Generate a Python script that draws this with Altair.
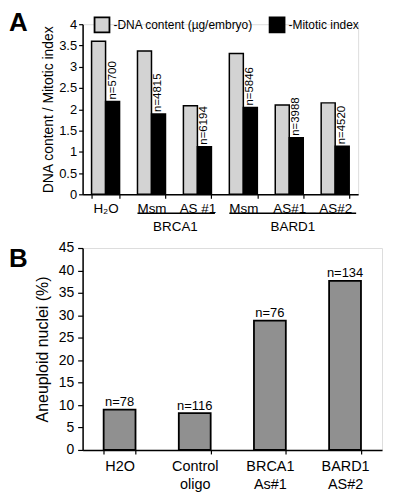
import json
import altair as alt
import pandas as pd

FONT = "Liberation Sans"

# ---------------- Panel A data ----------------
a_keys = ["H2O", "BRCA1 Msm", "BRCA1 AS #1", "BARD1 Msm", "BARD1 AS#1", "BARD1 AS#2"]
a_labels = ["H\u2082O", "Msm", "AS #1", "Msm", "AS#1", "AS#2"]
series = ["DNA content (\u00b5g/embryo)", "Mitotic index"]
dna = [3.60, 3.37, 2.08, 3.31, 2.10, 2.15]
mitotic = [2.18, 1.89, 1.12, 2.04, 1.33, 1.13]
n_a = ["n=5700", "n=4815", "n=6194", "n=5846", "n=3988", "n=4520"]

groups = ["BRCA1", "BARD1"]
group_start = ["BRCA1 Msm", "BARD1 Msm"]
group_end = ["BRCA1 AS #1", "BARD1 AS#2"]
group_mid = ["BRCA1 AS #1", "BARD1 AS#1"]

# ---------------- Panel B data ----------------
b_keys = ["H2O", "Control oligo", "BRCA1 As#1", "BARD1 AS#2"]
b_lines = [["H2O"], ["Control", "oligo"], ["BRCA1", "As#1"], ["BARD1", "AS#2"]]
b_values = [9.0, 8.2, 28.8, 37.7]
n_b = ["n=78", "n=116", "n=76", "n=134"]

# ---------------- layout (styling only) ----------------
WA, HA = 277, 171
WB, HB = 301, 203
grp_x2_off = [3.5, 7.0]      # pixel overhang of the underline past the last band
grp_lbl_band = [0.0, 0.63]   # label anchor position in its band
grp_lbl_off = [-8.0, 0.0]

dfA = pd.DataFrame({
    "cat": a_keys * 2,
    "series": [series[0]] * len(a_keys) + [series[1]] * len(a_keys),
    "value": dna + mitotic,
    "n": [""] * len(a_keys) + n_a,
})

a_label_expr = "{}[indexof({}, datum.value)]".format(
    json.dumps(a_labels, ensure_ascii=False), json.dumps(a_keys))

xA_scale = alt.Scale(domain=a_keys, paddingInner=0.39, paddingOuter=0.195)
xA_axis = alt.Axis(title=None, labelExpr=a_label_expr, tickBand="extent", labelAngle=0,
                   domainColor="black", domainWidth=1.5, tickColor="black", tickWidth=1.2,
                   tickSize=4, labelFont=FONT, labelFontSize=13.5, labelPadding=3,
                   labelColor="black", labelBaseline="top")
yA_axis = alt.Axis(values=[0, 0.5, 1, 1.5, 2, 2.5, 3, 3.5, 4], format=".1~f", grid=False,
                   title="DNA content / Mitotic index", titleX=-34, titleY=HA / 2,
                   titleAlign="center", titleBaseline="middle", titleAngle=-90,
                   titleFont=FONT, titleFontSize=14, titleFontWeight="normal", titleColor="black",
                   labelFont=FONT, labelFontSize=13, labelColor="black", labelPadding=2,
                   tickSize=4, tickColor="black", tickWidth=1.2,
                   domainColor="black", domainWidth=1.5)
yA_scale = alt.Scale(domain=[0, 4], nice=False)

baseA = alt.Chart(dfA)
xA = alt.X("cat:N", scale=xA_scale, axis=xA_axis, sort=a_keys)
xoA = alt.XOffset("series:N", scale=alt.Scale(domain=series), sort=series)
yA = alt.Y("value:Q", scale=yA_scale, axis=yA_axis)

barsA = baseA.mark_bar(stroke="black", strokeWidth=1.5).encode(
    x=xA, xOffset=xoA, y=yA,
    color=alt.Color("series:N", scale=alt.Scale(domain=series, range=["#d3d3d3", "#000000"]),
                    legend=alt.Legend(orient="none", legendX=11, legendY=-8, direction="horizontal",
                                      title=None, symbolType="square", symbolSize=225,
                                      symbolStrokeColor="black", symbolStrokeWidth=1.8,
                                      symbolOpacity=1, labelExpr="'-' + datum.label",
                                      labelFont=FONT, labelFontSize=12, labelColor="black",
                                      labelOffset=3, columnPadding=12, padding=0)),
)

nA = baseA.transform_filter(alt.datum.series == series[1]).mark_text(
    angle=270, align="left", baseline="middle", dx=2, font=FONT, fontSize=11.5, color="black"
).encode(x=xA, xOffset=xoA, y=yA, text="n:N")

layersA = [barsA, nA]
for i, g in enumerate(groups):
    dg = pd.DataFrame({"group": [g], "start": [group_start[i]], "end": [group_end[i]],
                       "mid": [group_mid[i]]})
    rule = alt.Chart(dg).mark_rule(color="black", strokeWidth=1.5, x2Offset=grp_x2_off[i]).encode(
        x=alt.X("start:N", scale=xA_scale, axis=xA_axis, bandPosition=0),
        x2=alt.X2("end:N", bandPosition=1),
        y=alt.value(HA + 19),
    )
    txt = alt.Chart(dg).mark_text(font=FONT, fontSize=13.5, baseline="middle", align="center",
                                  color="black", dx=grp_lbl_off[i]).encode(
        x=alt.X("mid:N", scale=xA_scale, axis=xA_axis, bandPosition=grp_lbl_band[i]),
        y=alt.value(HA + 33),
        text="group:N",
    )
    layersA += [rule, txt]

letterA = alt.Chart(pd.DataFrame({"t": ["A"]})).mark_text(
    font=FONT, fontSize=26, fontWeight="bold", align="left", baseline="top", color="black"
).encode(x=alt.value(-74), y=alt.value(-14), text="t:N")
layersA.append(letterA)

chartA = alt.layer(*layersA).properties(width=WA, height=HA)

# ---------------- Panel B ----------------
dfB = pd.DataFrame({"cat": b_keys, "value": b_values, "n": n_b})
b_label_expr = "{}[indexof({}, datum.value)]".format(json.dumps(b_lines), json.dumps(b_keys))

xB_scale = alt.Scale(domain=b_keys, paddingInner=0.576, paddingOuter=0.28)
xB_axis = alt.Axis(title=None, labelExpr=b_label_expr, tickBand="extent", labelAngle=0,
                   domainColor="black", domainWidth=1.5, tickColor="black", tickWidth=1.2,
                   tickSize=4, labelFont=FONT, labelFontSize=14.5, labelPadding=6,
                   labelLineHeight=18, labelColor="black", labelBaseline="top")
yB_axis = alt.Axis(values=list(range(0, 46, 5)), format="d", grid=False,
                   title="Aneuploid nuclei (%)", titleX=-40, titleY=HB / 2,
                   titleAlign="center", titleBaseline="middle", titleAngle=-90,
                   titleFont=FONT, titleFontSize=16, titleFontWeight="normal", titleColor="black",
                   labelFont=FONT, labelFontSize=14, labelColor="black", labelPadding=4,
                   tickSize=5, tickColor="black", tickWidth=1.2,
                   domainColor="black", domainWidth=1.5)
yB_scale = alt.Scale(domain=[0, 45], nice=False)

baseB = alt.Chart(dfB)
xB = alt.X("cat:N", scale=xB_scale, axis=xB_axis, sort=b_keys)
yB = alt.Y("value:Q", scale=yB_scale, axis=yB_axis)

barsB = baseB.mark_bar(color="#909090", stroke="black", strokeWidth=1.8).encode(x=xB, y=yB)
nB = baseB.mark_text(baseline="alphabetic", dy=-3.5, font=FONT, fontSize=13, color="black").encode(
    x=xB, y=yB, text="n:N")
letterB = alt.Chart(pd.DataFrame({"t": ["B"]})).mark_text(
    font=FONT, fontSize=26, fontWeight="bold", align="left", baseline="top", color="black"
).encode(x=alt.value(-74), y=alt.value(-2), text="t:N")

chartB = alt.layer(barsB, nB, letterB).properties(width=WB, height=HB)

chart = alt.vconcat(chartA, chartB, spacing=6).properties(
    padding={"left": 0, "top": 0, "right": 2, "bottom": 2}
).configure_view(stroke=None).configure(font=FONT, background="white")

chart.save("out.html", embed_options={"renderer": "svg", "actions": False})
